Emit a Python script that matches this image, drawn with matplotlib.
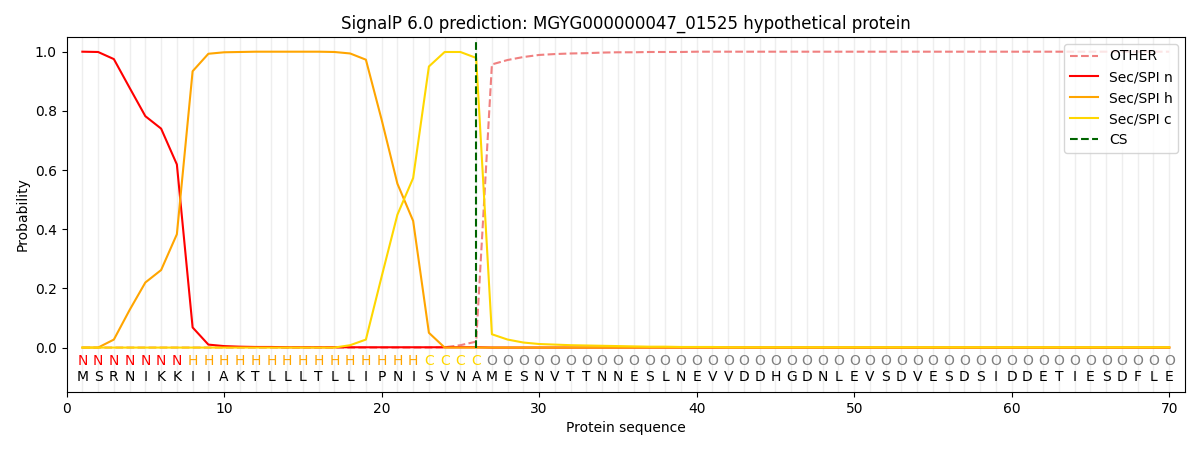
import numpy as np
import matplotlib
matplotlib.use("Agg")
import matplotlib.pyplot as plt

sequence = list("MSRNIKKIIAKTLLLTLLIPNISVNAMESNVTTNNESLNEVVDDHGDNLEVSDVESDSIDDETIESDFLE")
regions = list("N" * 7 + "H" * 15 + "C" * 4 + "O" * 44)
cs_pos = 26

sec_n = [1.0, 0.999, 0.975, 0.878, 0.782, 0.74, 0.619, 0.068, 0.01, 0.005,
         0.003, 0.002, 0.002, 0.001, 0.001, 0.001, 0.001, 0.001, 0.001, 0.001,
         0.001, 0.001, 0.001, 0.001, 0.001, 0.001] + [0.0] * 44
sec_h = [0.0, 0.0, 0.027, 0.127, 0.22, 0.262, 0.383, 0.934, 0.993, 0.998,
         0.999, 1.0, 1.0, 1.0, 1.0, 1.0, 0.999, 0.994, 0.973, 0.77,
         0.554, 0.428, 0.05, 0.0, 0.0, 0.0] + [0.0] * 44
sec_c = [0.0] * 17 + [0.008, 0.027, 0.24, 0.449, 0.573, 0.95, 0.999, 0.999, 0.979,
         0.045, 0.027, 0.017, 0.012, 0.01, 0.008, 0.007, 0.006, 0.005, 0.004,
         0.003, 0.003, 0.002, 0.002, 0.002] + [0.001] * 29
other = [0.0] * 23 + [0.001, 0.008, 0.02,
         0.957, 0.972, 0.982, 0.989, 0.992, 0.994, 0.995, 0.997, 0.998, 0.998,
         0.999, 0.999, 0.999] + [1.0] * 31

pos = np.arange(1, len(sequence) + 1)
region_colors = {"N": "red", "H": "orange", "C": "gold", "O": "grey"}

fig = plt.figure(figsize=(12, 4.5), dpi=100)
ax = fig.add_axes([0.0555, 0.129, 0.932, 0.789])

for p in pos:
    ax.axvline(p, color="#eeeeee", lw=1, zorder=0)

ax.plot(pos, other, color="lightcoral", ls="--", label="OTHER")
ax.plot(pos, sec_n, color="red", label="Sec/SPI n")
ax.plot(pos, sec_h, color="orange", label="Sec/SPI h")
ax.plot(pos, sec_c, color="gold", label="Sec/SPI c")
ax.vlines(cs_pos, 0, 1.04, color="darkgreen", ls="--", label="CS")

for p, aa, r in zip(pos, sequence, regions):
    ax.text(p, -0.045, r, color=region_colors[r], ha="center", va="center", fontsize=10)
    ax.text(p, -0.1, aa, color="black", ha="center", va="center", fontsize=10)

ax.set_xlim(0, 71)
ax.set_ylim(-0.15, 1.05)
ax.set_xlabel("Protein sequence")
ax.set_ylabel("Probability")
ax.set_title("SignalP 6.0 prediction: MGYG000000047_01525 hypothetical protein")
ax.legend(loc="upper right")

fig.savefig("out.png")
